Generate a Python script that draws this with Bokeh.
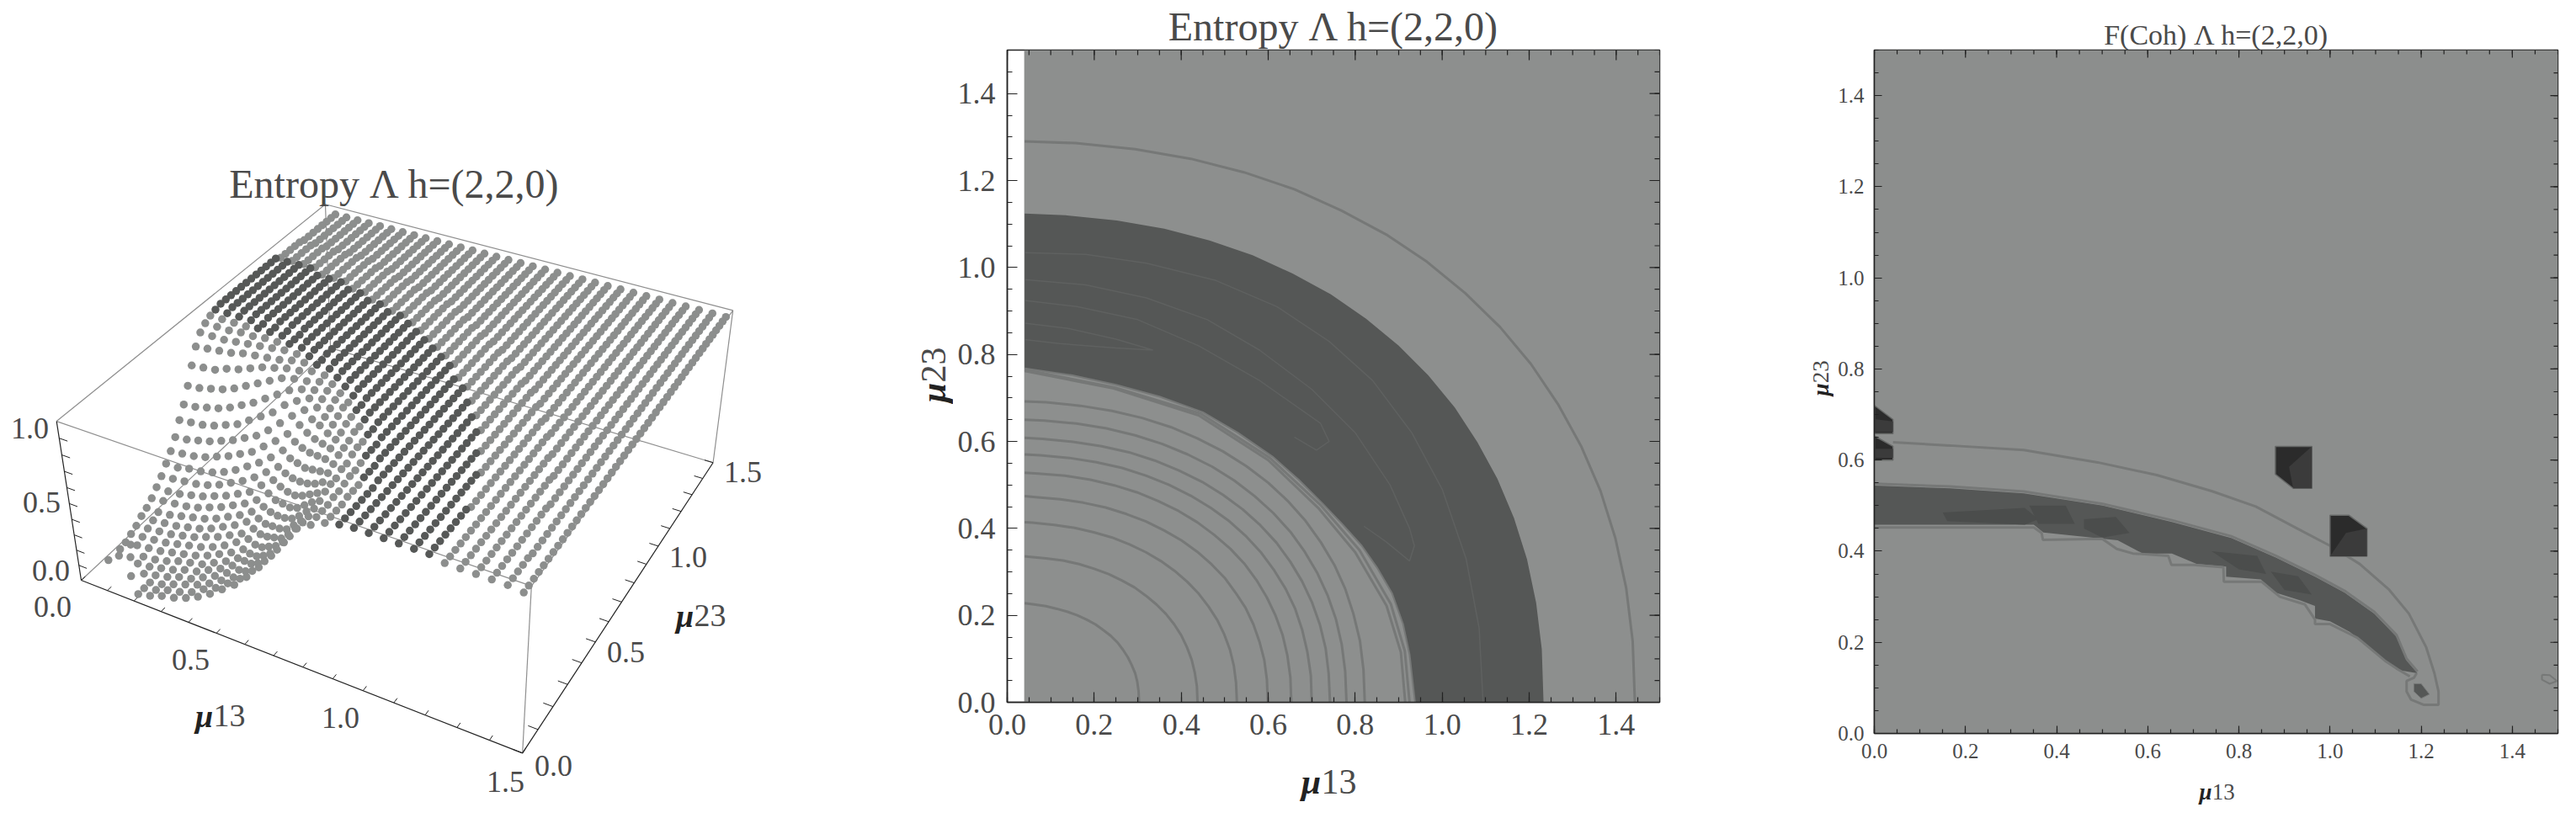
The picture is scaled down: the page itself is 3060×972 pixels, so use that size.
import numpy as np
from bokeh.embed import file_html
from bokeh.layouts import column, row
from bokeh.models import Label, FixedTicker, NumeralTickFormatter
from bokeh.plotting import figure
from bokeh.resources import INLINE

FONT = "Liberation Serif"
TEXT = "#4a4a4a"
LIGHT = "#8d8f8e"
DARK = "#555756"
LEVEL = "#767877"

# ---------- panel 1: entropy surface, percent of box height, -1 = no dot
x_grid = [0.04, 0.085, 0.13, 0.175, 0.22, 0.265, 0.31, 0.355, 0.40, 0.445, 0.49,
          0.535, 0.58, 0.625, 0.67, 0.715, 0.76, 0.805, 0.85, 0.895, 0.94, 0.985,
          1.03, 1.075, 1.12, 1.165, 1.21, 1.255, 1.30, 1.345, 1.39, 1.435, 1.48]
y_grid = [0.00, 0.03, 0.06, 0.09, 0.12, 0.15, 0.18, 0.21, 0.24, 0.27, 0.30, 0.33, 0.36,
          0.39, 0.42, 0.45, 0.48, 0.51, 0.54, 0.57, 0.60, 0.63, 0.66, 0.69, 0.72, 0.75,
          0.78, 0.81, 0.84, 0.87, 0.90, 0.93, 0.96, 0.99, 1.02, 1.05, 1.08, 1.11, 1.14,
          1.17, 1.20, 1.23, 1.26, 1.29, 1.32, 1.35, 1.38, 1.41, 1.44, 1.47, 1.50]
entropy_rows = [
    [-1,-1,-1,-1,6,8,11,13,16,20,25,31,37,45,54,64,75,86,91,95,97] + [98]*6 + [96]*5 + [95],
    [-1,-1,-1,11,6,8,11,13,16,21,25,31,37,45,54,64,75,86,92,95,97] + [98]*6 + [96]*5 + [95],
    [-1,-1,-1,-1,6,8,11,14,17,21,26,31,38,46,55,65,76,86,92,95,97] + [98]*6 + [96]*5 + [95],
    [5,11,13,5,7,9,12,14,18,22,27,32,39,47,56,66,77,87,92,95,97] + [98]*6 + [96]*5 + [95],
    [-1,-1,5,6,8,10,13,15,19,23,28,34,40,49,57,68,79,88,93,96,97] + [98]*6 + [96]*5 + [95],
    [5,11,6,7,9,12,14,16,20,24,29,35,42,51,59,70,81,90,93,96,97] + [98]*6 + [96]*4 + [95]*2,
    [6,7,8,9,11,13,15,18,22,26,31,37,45,53,62,73,83,91,94,96,97] + [98]*6 + [96]*4 + [95]*2,
    [8,9,10,11,13,15,17,20,24,29,34,40,48,56,65,76,86,91,95,97,98] + [98]*6 + [96]*4 + [95]*2,
    [10,11,12,13,15,17,20,23,27,31,37,43,51,59,69,79,88,93,95,97,98] + [98]*5 + [96]*5 + [95]*2,
    [13,13,14,15,17,19,22,26,30,35,40,47,55,63,73,83,90,93,96,97,98] + [98]*5 + [96]*5 + [95]*2,
    [15,15,16,18,20,22,25,29,33,38,44,51,59,68,78,87,92,95,97,98] + [98]*6 + [96]*5 + [95]*2,
    [18,19,20,21,23,26,29,33,37,42,49,56,64,73,83,90,93,96,97,98] + [98]*6 + [96]*5 + [95]*2,
    [22,22,23,25,27,30,33,37,41,48,54,61,70,79,87,92,94,96,97,98] + [98]*6 + [96]*4 + [95]*3,
    [26,27,28,29,31,34,38,42,47,53,59,67,76,84,90,93,96,97,98] + [98]*6 + [96]*5 + [95]*3,
    [31,31,33,34,36,39,43,48,53,59,66,74,82,89,92,95,96,97,98] + [98]*6 + [96]*5 + [95]*3,
    [36,37,38,40,43,46,50,54,60,66,73,81,87,91,94,96,97,98] + [98]*7 + [96]*5 + [95]*3,
    [42,43,45,47,50,53,57,61,67,74,81,87,91,93,96,97,98] + [98]*7 + [96]*5 + [95]*4,
    [50,51,52,54,57,60,65,70,75,82,87,91,93,95,96,97,98] + [98]*7 + [96]*5 + [95]*4,
    [57,58,60,62,65,69,73,78,83,88,91,93,95,96,97,98] + [98]*8 + [96]*5 + [95]*4,
    [66,67,69,71,74,78,82,86,90,92,93,95,96,97,98] + [98]*8 + [96]*5 + [95]*5,
    [76,77,78,81,83,86,89,91,93,94,96,96,97,98] + [98]*9 + [96]*5 + [95]*5,
    [85,86,87,88,90,91,92,93,95,96,97,97,98] + [98]*9 + [96]*6 + [95]*5,
    [91,91,91,92,93,94,95,96,96,97,97,98] + [98]*10 + [96]*5 + [95]*6,
    [94,94,94,95,95,96,96,97,97,98] + [98]*11 + [96]*6 + [95]*6,
    [96,96,96,96,97,97,97,97] + [98]*13 + [96]*5 + [95]*7,
    [97]*8 + [98]*12 + [96]*6 + [95]*7,
    [98]*19 + [96]*6 + [95]*8,
    [98]*19 + [96]*6 + [95]*8,
    [98]*18 + [96]*6 + [95]*9,
    [98]*17 + [96]*6 + [95]*10,
    [98]*16 + [96]*7 + [95]*10,
    [98]*15 + [96]*7 + [95]*11,
    [98]*14 + [96]*7 + [95]*12,
    [98]*13 + [96]*7 + [95]*13,
    [98]*11 + [96]*8 + [95]*14,
    [98]*9 + [96]*9 + [95]*15,
    [98]*7 + [96]*10 + [95]*16,
    [98]*4 + [96]*12 + [95]*17,
    [96]*15 + [95]*18,
    [96]*13 + [95]*20,
    [96]*11 + [95]*22,
    [96]*9 + [95]*24,
    [96]*7 + [95]*26,
    [95]*33, [95]*33, [95]*33, [95]*33, [95]*33, [95]*33, [95]*33, [95]*33,
]

# ---------- panel 2: contour readings (mu13, mu23)
levels_x = [
    [.303,.302,.299,.294,.286,.277,.266,.253,.238,.221,.203,.183,.161,.139,.114,.089,.062,.04],
    [.4375,.436,.431,.424,.413,.400,.384,.365,.343,.319,.293,.264,.233,.200,.165,.128,.089,.048,.04],
    [.528,.526,.521,.512,.499,.483,.463,.440,.414,.385,.353,.319,.281,.241,.199,.155,.108,.057,.04],
    [.599,.597,.591,.580,.566,.548,.525,.500,.470,.437,.401,.361,.319,.274,.226,.175,.122,.065,.04],
    [.653,.651,.644,.633,.617,.597,.573,.545,.513,.476,.437,.394,.347,.298,.246,.191,.133,.071,.04],
    [.70,.698,.690,.678,.662,.640,.614,.584,.550,.511,.468,.422,.372,.320,.264,.205,.143,.076,.04],
    [.742,.739,.732,.719,.701,.678,.651,.619,.582,.541,.496,.448,.395,.339,.280,.217,.151,.081,.04],
    [.78,.777,.769,.756,.737,.713,.684,.651,.612,.569,.522,.471,.415,.357,.294,.228,.159,.085,.04],
    [.822,.819,.811,.796,.777,.752,.721,.686,.645,.600,.550,.496,.437,.376,.310,.241,.168,.090,.04],
    [.915,.905,.872,.80,.715,.60,.44,.245,.04],
    [.925,.914,.882,.81,.722,.604,.445,.247,.04],
]
levels_y = [
    [0,.025,.047,.067,.086,.104,.121,.138,.153,.166,.179,.190,.200,.208,.215,.221,.225,.228],
    [0,.037,.069,.098,.127,.154,.179,.203,.225,.245,.264,.280,.295,.307,.318,.326,.331,.335,.336],
    [0,.045,.084,.121,.156,.189,.220,.250,.277,.302,.325,.345,.363,.379,.391,.401,.408,.413,.414],
    [0,.052,.097,.139,.179,.217,.252,.286,.317,.346,.372,.395,.416,.433,.448,.459,.467,.472,.474],
    [0,.057,.108,.155,.199,.241,.281,.319,.353,.385,.414,.440,.463,.483,.499,.512,.521,.526,.528],
    [0,.062,.116,.167,.215,.261,.303,.344,.381,.416,.447,.475,.500,.521,.539,.552,.562,.568,.57],
    [0,.066,.124,.178,.229,.278,.323,.367,.407,.444,.477,.507,.533,.556,.575,.589,.599,.606,.608],
    [0,.071,.133,.190,.245,.297,.346,.392,.435,.474,.510,.542,.570,.594,.614,.630,.641,.648,.65],
    [0,.075,.141,.203,.261,.316,.368,.417,.463,.505,.543,.577,.607,.633,.654,.670,.682,.690,.692],
    [0,.115,.222,.345,.447,.557,.66,.722,.762],
    [0,.118,.226,.350,.452,.562,.664,.724,.765],
]
outer_x = [1.443,1.438,1.423,1.398,1.364,1.319,1.266,1.204,1.133,1.053,.965,.871,.768,.660,.544,.422,.294,.157,.04]
outer_y = [0,.140,.263,.378,.486,.590,.686,.778,.863,.941,1.013,1.076,1.131,1.180,1.219,1.250,1.272,1.286,1.29]
band_out_x = [1.233,1.229,1.216,1.195,1.165,1.127,1.081,1.029,.968,.900,.825,.744,.656,.564,.465,.361,.252,.134,.04]
band_out_y = [0,.122,.229,.329,.424,.514,.598,.678,.752,.820,.882,.938,.986,1.028,1.062,1.089,1.108,1.120,1.124]
band_in_x = [.04,.15,.25,.35,.45,.53,.61,.67,.725,.77,.815,.85,.885,.91,.925,.9375]
band_in_y = [.768,.752,.73,.703,.667,.62,.565,.512,.457,.41,.36,.31,.25,.18,.11,0]
band_lines_x = [
    [1.094,1.085,1.055,1.0,.93,.84,.74,.62,.48,.32,.18,.04],
    [.04,.18,.32,.46,.58,.70,.80,.88,.925,.936,.925,.87,.82],
    [.04,.16,.30,.44,.58,.68,.72,.74,.711,.66],
    [.04,.14,.25,.335,.25,.12,.04],
]
band_lines_y = [
    [0,.17,.33,.49,.62,.74,.83,.91,.97,1.01,1.03,1.034],
    [.972,.96,.93,.88,.81,.72,.62,.50,.40,.36,.325,.37,.405],
    [.924,.91,.88,.82,.74,.67,.642,.60,.58,.61],
    [.872,.86,.835,.81,.815,.825,.834],
]

# ---------- panel 3: F(Coh) regions and contours (mu13, mu23)
coh_blob_x = [0,.166,.328,.501,.653,.783,.881,.967,1.032,1.097,1.146,1.168,1.192,1.146,1.108,1.043,1.0,.967,.967,.935,.881,.848,.772,.772,.707,.653,.589,.534,.371,.35,0]
coh_blob_y = [.544,.538,.527,.500,.464,.429,.386,.344,.309,.263,.212,.160,.132,.140,.172,.223,.246,.252,.28,.292,.309,.338,.344,.366,.372,.395,.395,.424,.441,.458,.458]
coh_edge_x = [0,.35,.367,.37,.50,.532,.567,.645,.652,.70,.766,.767,.85,.89,.945,.967,.967,1.0,1.06,1.12,1.15,1.175]
coh_edge_y = [.452,.452,.44,.425,.427,.405,.395,.39,.37,.37,.365,.333,.333,.30,.283,.25,.24,.24,.21,.16,.14,.125]
coh_top_x = [0,.166,.328,.501,.653,.783,.881,.967,1.032,1.097,1.146,1.168,1.192]
coh_top_y = [.548,.542,.531,.504,.468,.433,.39,.348,.313,.267,.216,.164,.136]
coh_shade_x = [[.15,.33,.36,.33,.16], [.46,.53,.56,.50,.46], [.74,.84,.86,.80], [.87,.93,.96,.90], [.34,.42,.44,.36]]
coh_shade_y = [[.485,.495,.47,.458,.466], [.47,.475,.44,.43,.45], [.40,.39,.35,.36], [.355,.345,.305,.315], [.50,.50,.46,.46]]
coh_curve_x = [.041,.166,.328,.49,.62,.74,.837,.924,1.0,1.065,1.13,1.173,1.211,1.229,1.238,1.238,1.205,1.178,1.168,1.168,1.184,1.19]
coh_curve_y = [.639,.632,.622,.595,.567,.532,.498,.452,.412,.372,.315,.263,.189,.132,.092,.063,.063,.074,.092,.115,.122,.132]
coh_dot_x = [1.184,1.20,1.218,1.20,1.184]
coh_dot_y = [.109,.109,.086,.077,.092]
coh_oval_x = [1.465,1.482,1.498,1.482,1.465,1.465]
coh_oval_y = [.129,.128,.115,.109,.118,.129]
cube_x = [[.88,.96,.96,.919,.88], [1.0,1.041,1.081,1.081,1.0], [0,.041,.041,0], [0,.041,.041,0]]
cube_y = [[.63,.63,.538,.538,.569], [.479,.479,.45,.389,.389], [.72,.689,.658,.658], [.653,.63,.6,.6]]
cube_face_x = [[.91,.96,.96,.919], [1.035,1.081,1.081,1.0], [0,.041,.041,0], [0,.041,.041,0]]
cube_face_y = [[.585,.63,.538,.538], [.44,.45,.389,.389], [.69,.685,.662,.662], [.625,.625,.605,.605]]

tick_major = [0.0, 0.2, 0.4, 0.6, 0.8, 1.0, 1.2, 1.4]
tick_minor = [k * 0.05 for k in range(31)]
title_entropy = "Entropy Λ h=(2,2,0)"
title_coh = "F(Coh) Λ h=(2,2,0)"

# ---------- panel 1 projection, fitted on the picture's box corners
box3d = np.array([[0, 0, 0], [1.5, 0, 0], [1.5, 1.5, 0], [0, 0, 1], [1.5, 0, 1], [1.5, 1.5, 1], [0, 1.5, 1]], float)
boxpx = np.array([[96, 689], [620, 894.3], [846.7, 549.3], [66.7, 500], [631, 696], [870, 368.3], [386, 242.3]], float)
A = []
for (X, Y, Z), (u, v) in zip(box3d, boxpx):
    A.append([X, Y, Z, 1, 0, 0, 0, 0, -u * X, -u * Y, -u * Z, -u])
    A.append([0, 0, 0, 0, X, Y, Z, 1, -v * X, -v * Y, -v * Z, -v])
H = np.linalg.svd(np.array(A))[2][-1].reshape(3, 4)


def proj(x, y, z):
    q = H @ np.array([x, y, z, np.ones_like(np.asarray(x, float))], float)
    return q[0] / q[2], q[1] / q[2]


def px_label(p, x, y, text, size, angle=0.0, style="normal", color=TEXT):
    p.add_layout(Label(x=x, y=y, text=text, text_font=FONT, text_font_size=f"{size}px",
                       text_font_style=style, text_color=color, text_align="center",
                       text_baseline="middle", angle=angle))


def mu_label(p, x, y, text, size, rot=False):
    """bold italic mu followed by upright digits, centred on pixel (x, y)"""
    if rot:
        px_label(p, x, y + 0.5 * size, "μ", size, np.pi / 2, "bold italic", "#222222")
        px_label(p, x, y - 0.288 * size, text, size, np.pi / 2)
    else:
        px_label(p, x - 0.5 * size, y, "μ", size, 0, "bold italic", "#222222")
        px_label(p, x + 0.288 * size, y, text, size)


def px_figure(x0, x1, y0, y1):
    """frame-only figure whose data coordinates are page pixels"""
    f = figure(width=x1 - x0, height=y1 - y0, x_range=(x0, x1), y_range=(y1, y0), x_axis_type=None, y_axis_type=None,
               output_backend="svg", toolbar_location=None, min_border=0, outline_line_color=None, frame_align=False)
    f.grid.visible = False
    return f


# ---------- panel 1
p1 = px_figure(0, 1080, 0, 972)
edge = "#8f8f8f"
X_, Y_, Z_ = 1.5, 1.5, 1.0
gray_edges = [((0, 0, 0), (0, Y_, 0)), ((0, Y_, 0), (X_, Y_, 0)), ((X_, Y_, 0), (X_, Y_, Z_)), ((0, Y_, 0), (0, Y_, Z_)),
              ((0, Y_, Z_), (X_, Y_, Z_)), ((0, 0, Z_), (0, Y_, Z_)), ((0, 0, Z_), (X_, 0, Z_)),
              ((X_, 0, Z_), (X_, Y_, Z_)), ((X_, 0, 0), (X_, 0, Z_))]
for a, b in gray_edges:
    u, v = proj(*np.array([a, b], float).T)
    p1.line(u, v, line_color=edge, line_width=1.2)
for a, b in [((0, 0, 0), (0, 0, Z_)), ((0, 0, 0), (X_, 0, 0)), ((X_, 0, 0), (X_, Y_, 0))]:
    u, v = proj(*np.array([a, b], float).T)
    p1.line(u, v, line_color="#222222", line_width=1.2)
for k in range(0, 16):
    t = k / 10
    u, v = proj(np.array([t, t]), np.array([0, .02]), np.array([0., 0.]))
    p1.line(u, v, line_color="#222222", line_width=1)
    u, v = proj(np.array([X_, X_ - .03]), np.array([t, t]), np.array([0., 0.]))
    p1.line(u, v, line_color="#222222", line_width=1)
for k in range(1, 10):
    t = k / 10
    u, v = proj(np.array([0, .03]), np.array([0., 0.]), np.array([t, t]))
    p1.line(u, v, line_color="#222222", line_width=1)

gx, gy, gz, gc = [], [], [], []
for j in range(len(y_grid) - 1, -1, -1):
    for i, s in enumerate(entropy_rows[j]):
        if s >= 0:
            gx.append(x_grid[i]); gy.append(y_grid[j]); gz.append(s / 100)
            gc.append("#565857" if s >= 97 else "#8c8e8d")
u, v = proj(np.array(gx), np.array(gy), np.array(gz))
p1.scatter(u, v, size=9.5, marker="circle", fill_color=gc, line_color=None)

px_label(p1, 468, 218, title_entropy, 48)
for txt, px_, py_ in [("1.0", 35, 508), ("0.5", 49, 596), ("0.0", 60, 677), ("0.0", 62, 720), ("0.5", 226, 783),
                      ("1.0", 404, 852), ("1.5", 600, 928), ("0.0", 657, 909), ("0.5", 743, 774), ("1.0", 817, 661),
                      ("1.5", 882, 560)]:
    px_label(p1, px_, py_, txt, 36)
mu_label(p1, 261, 850, "13", 38)
mu_label(p1, 832, 731, "23", 38)


# ---------- panels 2 and 3
def framed(w, h, left, right, top, bottom, title, title_size, title_gap, tick_size, standoff, maj, mnr):
    p = figure(width=w, height=h, x_range=(0, 1.5), y_range=(0, 1.5), output_backend="svg", toolbar_location=None,
               min_border_left=left, min_border_right=right, min_border_top=top, min_border_bottom=bottom,
               title=title, title_location="above", outline_line_color="#222222", outline_line_width=1.5,
               frame_align=False)
    p.title.text_font = FONT
    p.title.text_font_size = f"{title_size}px"
    p.title.text_font_style = "normal"
    p.title.text_color = TEXT
    p.title.align = "center"
    p.title.standoff = title_gap
    p.grid.visible = False
    for ax in p.axis:
        ax.ticker = FixedTicker(ticks=tick_major, minor_ticks=tick_minor)
        ax.formatter = NumeralTickFormatter(format="0.0")
        ax.major_tick_in, ax.major_tick_out = maj, 0
        ax.minor_tick_in, ax.minor_tick_out = mnr, 0
        ax.axis_line_color = "#222222"
        ax.axis_line_width = 1.5
        ax.major_tick_line_color = "#222222"
        ax.minor_tick_line_color = "#222222"
        ax.major_tick_line_width = 1.2
        ax.minor_tick_line_width = 1.2
        ax.major_label_text_font = FONT
        ax.major_label_text_font_size = f"{tick_size}px"
        ax.major_label_text_color = TEXT
        ax.major_label_standoff = standoff
    return p


def mirror_ticks(p, maj, mnr, span):
    """ticks on the top and right frame edges, lengths given in pixels"""
    d = 1.5 / span
    for ticks, ln in ((tick_minor, mnr), (tick_major, maj)):
        t = np.array(ticks)
        top = np.full_like(t, 1.5)
        p.segment(t, top, t, top - ln * d, line_color="#222222", line_width=1.2)
        p.segment(top, t, top - ln * d, t, line_color="#222222", line_width=1.2)


# panel 2 occupies x 1132..2140, frame 1196..1971 / 58..834
p2 = framed(1008, 900, 64, 169, 58, 66, title_entropy, 48, 4, 36, 14, 12, 6)
p2.quad(left=0.039, right=1.5, bottom=0, top=1.5, fill_color=LIGHT, line_color=None, level="underlay")
p2.patch(band_out_x + band_in_x, band_out_y + band_in_y, fill_color=DARK, line_color=None)
for lx, ly in zip(band_lines_x, band_lines_y):
    p2.line(lx, ly, line_color="#5f6160", line_width=1.5)
for lx, ly in zip(levels_x, levels_y):
    p2.line(lx, ly, line_color=LEVEL, line_width=3)
p2.line(band_in_x, band_in_y, line_color=LEVEL, line_width=2)
p2.line(outer_x, outer_y, line_color=LEVEL, line_width=3)
mirror_ticks(p2, 12, 6, 775)
left2 = px_figure(1080, 1132, 0, 972)
mu_label(left2, 1108, 445, "23", 42, rot=True)
below2 = px_figure(1132, 2140, 900, 972)
mu_label(below2, 1578, 928, "13", 42)

# panel 3 occupies x 2178..3060, frame 2226..3038 / 59..871
p3 = framed(882, 915, 48, 22, 59, 44, title_coh, 34, 0, 25, 12, 9, 5)
p3.quad(left=0, right=1.5, bottom=0, top=1.5, fill_color="#8c8e8d", line_color=None, level="underlay")
p3.patch(coh_blob_x, coh_blob_y, fill_color=DARK, line_color=None)
for sx, sy in zip(coh_shade_x, coh_shade_y):
    p3.patch(sx, sy, fill_color="#4b4d4c", line_color=None)
p3.line(coh_top_x, coh_top_y, line_color=LEVEL, line_width=3)
p3.line(coh_edge_x, coh_edge_y, line_color=LEVEL, line_width=3)
p3.line(coh_curve_x, coh_curve_y, line_color=LEVEL, line_width=3)
p3.patch(coh_dot_x, coh_dot_y, fill_color=DARK, line_color=LEVEL, line_width=1)
p3.line(coh_oval_x, coh_oval_y, line_color=LEVEL, line_width=2)
for cx, cy in zip(cube_x, cube_y):
    p3.patch(cx, cy, fill_color="#2b2b2b", line_color="#666867", line_width=1.5)
for cx, cy in zip(cube_face_x, cube_face_y):
    p3.patch(cx, cy, fill_color="#3b3b3b", line_color=None)
mirror_ticks(p3, 9, 5, 812)
left3 = px_figure(2140, 2178, 0, 972)
mu_label(left3, 2162, 449, "23", 27, rot=True)
below3 = px_figure(2178, 3060, 915, 972)
mu_label(below3, 2633, 940, "13", 27)

page = row(p1, left2, column(p2, below2, spacing=0), left3, column(p3, below3, spacing=0), spacing=0)
open("out.html", "w").write(file_html(page, INLINE))
